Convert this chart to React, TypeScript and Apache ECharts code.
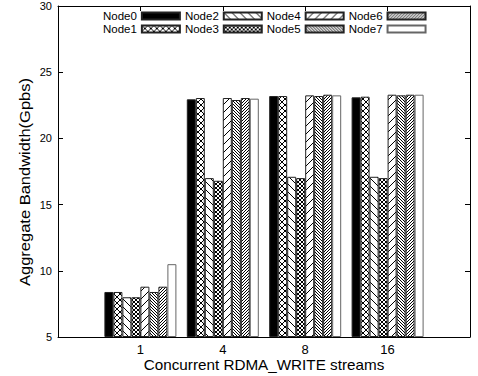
import React, { useEffect, useRef } from 'react';
import * as echarts from 'echarts';

// Number of concurrent RDMA_WRITE streams per group
const categories = ['1', '4', '8', '16'];

// Aggregate bandwidth per node (Gbps)
const nodeNames = ['Node0', 'Node1', 'Node2', 'Node3', 'Node4', 'Node5', 'Node6', 'Node7'];
const node0 = [8.4, 22.95, 23.2, 23.1];
const node1 = [8.4, 23.05, 23.2, 23.15];
const node2 = [8.0, 17.0, 17.1, 17.1];
const node3 = [8.0, 16.8, 17.0, 17.0];
const node4 = [8.8, 23.05, 23.25, 23.3];
const node5 = [8.4, 22.9, 23.2, 23.25];
const node6 = [8.8, 23.05, 23.3, 23.3];
const node7 = [10.5, 23.0, 23.25, 23.3];
const nodeValues = [node0, node1, node2, node3, node4, node5, node6, node7];

// Value axis range
const yMin = 5;
const yMax = 30;
const yStep = 5;

const FONT = '"Liberation Sans", Arial, Helvetica, sans-serif';

// Builds a repeating black-on-white hatch tile ("\" = back, "/" = fwd)
function hatch(period: number, fwd: boolean, back: boolean) {
  const c = document.createElement('canvas');
  c.width = period;
  c.height = period;
  const ctx = c.getContext('2d')!;
  const img = ctx.createImageData(period, period);
  for (let y = 0; y < period; y++) {
    for (let x = 0; x < period; x++) {
      const onBack = back && (((x - y) % period) + period) % period === 0;
      const onFwd = fwd && (x + y) % period === period - 1;
      const v = onBack || onFwd ? 0 : 255;
      const i = (y * period + x) * 4;
      img.data[i] = v;
      img.data[i + 1] = v;
      img.data[i + 2] = v;
      img.data[i + 3] = 255;
    }
  }
  ctx.putImageData(img, 0, 0);
  return { image: c, repeat: 'repeat', imageWidth: period, imageHeight: period };
}

export default function App() {
  const ref = useRef<HTMLDivElement>(null);

  useEffect(() => {
    if (!ref.current) return;
    const chart = echarts.init(ref.current, undefined, { renderer: 'svg' });

    const fills: any[] = [
      '#000000',
      hatch(6, true, true),
      hatch(8, false, true),
      hatch(4, true, true),
      hatch(8, true, false),
      hatch(3, false, true),
      hatch(3, true, false),
      '#ffffff',
    ];

    const xData = ['', ...categories, ''];

    const series = nodeNames.map((name, k) => ({
      name,
      type: 'bar',
      data: [null, ...nodeValues[k], null],
      barWidth: 9,
      barGap: '0%',
      silent: true,
      itemStyle: {
        color: fills[k],
        borderColor: k === 7 ? '#666' : '#222',
        borderWidth: 1,
      },
      emphasis: { disabled: true },
    }));

    const legendBase = {
      left: 103,
      itemWidth: 38,
      itemHeight: 7,
      itemGap: 4,
      align: 'right',
      icon: 'rect',
      padding: 0,
      selectedMode: false,
      textStyle: { fontSize: 11.5, color: '#000', fontFamily: FONT },
    };

    const tickStyle = { color: '#000', width: 1 };

    chart.setOption({
      animation: false,
      backgroundColor: '#ffffff',
      grid: { left: 58, right: 8, top: 6, bottom: 39 },
      legend: [
        { ...legendBase, top: 10, data: ['Node0', 'Node2', 'Node4', 'Node6'] },
        { ...legendBase, top: 23, data: ['Node1', 'Node3', 'Node5', 'Node7'] },
      ],
      xAxis: [
        {
          type: 'category',
          data: xData,
          boundaryGap: false,
          axisLine: { show: true, lineStyle: tickStyle },
          axisTick: { show: true, inside: true, length: 5, lineStyle: tickStyle },
          axisLabel: { interval: 0, fontSize: 13, color: '#000', margin: 6, fontFamily: FONT },
          splitLine: { show: false },
        },
        {
          type: 'category',
          position: 'top',
          data: xData,
          boundaryGap: false,
          axisLine: { show: true, lineStyle: tickStyle },
          axisTick: { show: true, inside: true, length: 5, lineStyle: tickStyle },
          axisLabel: { show: false },
          splitLine: { show: false },
        },
      ],
      yAxis: [
        {
          type: 'value',
          min: yMin,
          max: yMax,
          interval: yStep,
          startValue: yMin,
          axisLine: { show: true, lineStyle: tickStyle },
          axisTick: { show: true, inside: true, length: 5, lineStyle: tickStyle },
          axisLabel: { fontSize: 11, color: '#000', margin: 6, fontFamily: FONT },
          splitLine: { show: false },
        },
        {
          type: 'value',
          position: 'right',
          min: yMin,
          max: yMax,
          interval: yStep,
          axisLine: { show: true, lineStyle: tickStyle },
          axisTick: { show: true, inside: true, length: 5, lineStyle: tickStyle },
          axisLabel: { show: false },
          splitLine: { show: false },
        },
      ],
      series,
      graphic: [
        {
          type: 'text',
          x: 25,
          y: 182,
          rotation: Math.PI / 2,
          scaleX: 1.1,
          silent: true,
          style: {
            text: 'Aggregate Bandwidth(Gpbs)',
            fontSize: 15,
            fontFamily: FONT,
            fill: '#000',
            textAlign: 'center',
            textVerticalAlign: 'middle',
            align: 'center',
            verticalAlign: 'middle',
          },
        },
        {
          type: 'text',
          x: 264,
          y: 365,
          scaleX: 1.09,
          silent: true,
          style: {
            text: 'Concurrent RDMA_WRITE streams',
            fontSize: 14,
            fontFamily: FONT,
            fill: '#000',
            textAlign: 'center',
            textVerticalAlign: 'middle',
            align: 'center',
            verticalAlign: 'middle',
          },
        },
      ],
    } as any);

    return () => chart.dispose();
  }, []);

  return (
    <div
      ref={ref}
      style={{ position: 'fixed', left: 0, top: 0, width: 478, height: 376, background: '#fff' }}
    />
  );
}
